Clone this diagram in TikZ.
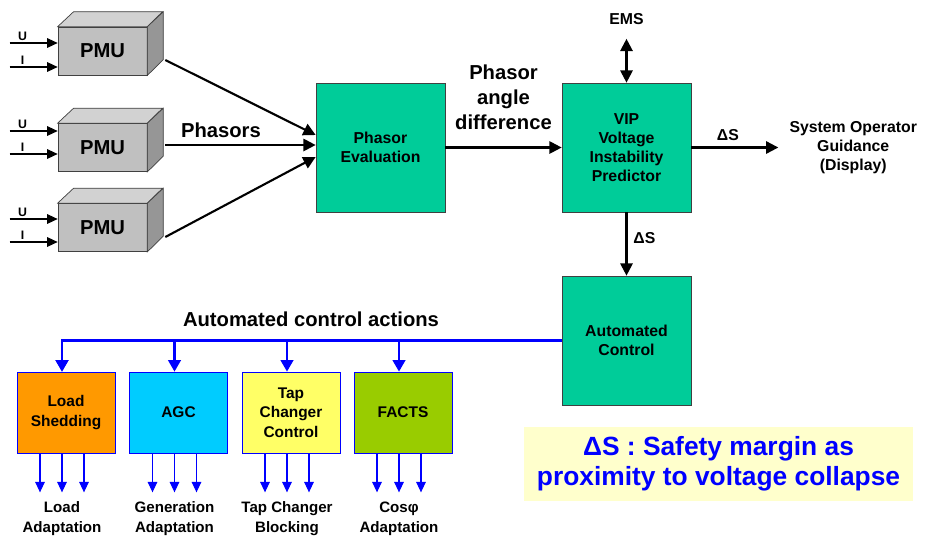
\documentclass[tikz,border=0pt]{standalone}
\usepackage{fontspec}
\setmainfont{Liberation Sans}
\usetikzlibrary{arrows.meta,positioning}
\definecolor{pmufront}{RGB}{192,192,192}
\definecolor{pmutop}{RGB}{210,210,210}
\definecolor{pmuside}{RGB}{150,150,150}
\definecolor{vipgreen}{RGB}{0,204,153}
\definecolor{shedorange}{RGB}{255,153,0}
\definecolor{agccyan}{RGB}{0,204,255}
\definecolor{tapyellow}{RGB}{255,255,102}
\definecolor{factsgreen}{RGB}{153,204,0}
\definecolor{noteyellow}{RGB}{255,255,204}
\definecolor{busblue}{RGB}{0,0,255}

\tikzset{
  pmu/.style={draw=darkgray, fill=pmufront, minimum width=1.78cm, minimum height=0.96cm, font=\bfseries\fontsize{11.5}{13}\selectfont},
  proc/.style={draw=darkgray, fill=vipgreen, minimum width=2.58cm, minimum height=2.58cm, align=center, font=\bfseries\fontsize{9}{10.8}\selectfont},
  act/.style={draw=busblue, minimum width=1.96cm, minimum height=1.62cm, align=center, font=\bfseries\fontsize{8.8}{11}\selectfont},
  txt/.style={align=center, font=\bfseries\fontsize{9}{10.6}\selectfont},
  bigtxt/.style={align=center, font=\bfseries\fontsize{11.5}{14.2}\selectfont},
  outlbl/.style={align=center, font=\bfseries\fontsize{8.6}{11.4}\selectfont},
  inlbl/.style={above, inner sep=1pt, font=\bfseries\fontsize{7}{8}\selectfont},
  inarr/.style={line width=0.6pt, -{Triangle[length=6pt,width=5.5pt]}},
  bigarr/.style={line width=1.2pt, -{Triangle[length=7pt,width=7pt]}},
  bus/.style={busblue, line width=1.5pt, -{Triangle[length=6.5pt,width=7pt]}},
  outarr/.style={busblue, line width=0.6pt, -{Triangle[length=6pt,width=5.5pt]}},
}

\begin{document}
\begin{tikzpicture}[x=0.02cm, y=-0.02cm]
\useasboundingbox (0,0) rectangle (930,538);

% PMUs with U and I inputs
\foreach \p/\py/\uy/\iy in {pmu1/51/0.16cm/-0.32cm, pmu2/147.5/0.33cm/-0.13cm, pmu3/227.5/0.17cm/-0.29cm} {
  \node[pmu] (\p) at (102.5,\py) {PMU};
  \filldraw[fill=pmutop, draw=darkgray] (\p.north west) -- ++(16,-15) -- ++(89,0) -- (\p.north east) -- cycle;
  \filldraw[fill=pmuside, draw=darkgray] (\p.north east) -- ++(16,-15) -- ++(0,48) -- (\p.south east) -- cycle;
  \coordinate (\p u) at ([xshift=-0.96cm,yshift=\uy]\p.west);
  \coordinate (\p i) at ([xshift=-0.96cm,yshift=\iy]\p.west);
  \draw[inarr] (\p u) -- node[inlbl, pos=0.27] {U} (\p u -| \p.west);
  \draw[inarr] (\p i) -- node[inlbl, pos=0.27] {I} (\p i -| \p.west);
}

% processing blocks
\node[proc] (phev) at (380.5,147.5) {Phasor\\Evaluation};
\node[proc] (vip) at (626.5,147.5) {VIP\\Voltage\\Instability\\Predictor};
\node[proc] (auto) at (626.5,340.5) {Automated\\Control};
\node[txt] (ems) at (626.5,19) {EMS};

% phasors to evaluation
\draw[bigarr] ([xshift=0.36cm,yshift=-0.18cm]pmu1.east) -- ([yshift=0.25cm]phev.west);
\draw[bigarr] ([xshift=0.36cm,yshift=0.05cm]pmu2.east) -- node[bigtxt, above, pos=0.37] {Phasors} ([yshift=0.05cm]phev.west);
\draw[bigarr] ([xshift=0.36cm,yshift=-0.19cm]pmu3.east) -- ([yshift=-0.19cm]phev.west);

\draw[bigarr] (phev.east) -- node[bigtxt, above, yshift=0.22cm] {Phasor\\angle\\difference} (vip.west);
\draw[line width=1.2pt, {Triangle[length=7pt,width=7pt]}-{Triangle[length=7pt,width=7pt]}] ([yshift=-0.16cm]ems.south) -- (vip.north);

% outputs of the predictor
\coordinate (disp) at ([xshift=1.74cm]vip.east);
\draw[bigarr] (vip.east) -- node[txt, above, pos=0.42] {ΔS} (disp);
\node[txt, right=0.1cm of disp] (sog) {System Operator\\Guidance\\(Display)};
\draw[bigarr] (vip.south) -- node[txt, right, pos=0.4] {ΔS} (auto.north);

% control actions
\node[act, fill=shedorange] (load) at (66,412.5) {Load\\Shedding};
\node[act, fill=agccyan] (agc) at (178.5,412.5) {AGC};
\node[act, fill=tapyellow] (tap) at (291,412.5) {Tap\\Changer\\Control};
\node[act, fill=factsgreen] (facts) at (403,412.5) {FACTS};

\node[bigtxt] (actions) at (311,319) {Automated control actions};

\coordinate (load top) at ([xshift=-0.08cm]load.north);
\draw[bus] (auto.west) -| (load top);
\foreach \b/\txt in {load/Load\\Adaptation, agc/Generation\\Adaptation, tap/Tap Changer\\Blocking, facts/Cosφ\\Adaptation} {
  \coordinate (\b top) at ([xshift=-0.08cm]\b.north);
  \draw[bus] (\b top |- auto.west) -- (\b top);
  \foreach \dx in {-0.52cm,-0.08cm,0.36cm}
    \draw[outarr] ([xshift=\dx]\b.south) -- ++(0,39);
  \node[outlbl] (\b out) at ([xshift=-0.08cm,yshift=-1.3cm]\b.south) {\txt};
}

% note
\node[fill=noteyellow, minimum width=7.78cm, minimum height=1.48cm, align=center, text=busblue,
  font=\bfseries\fontsize{15}{17}\selectfont] (note) at (718.5,464) {ΔS : Safety margin as\\proximity to voltage collapse};
\end{tikzpicture}
\end{document}
